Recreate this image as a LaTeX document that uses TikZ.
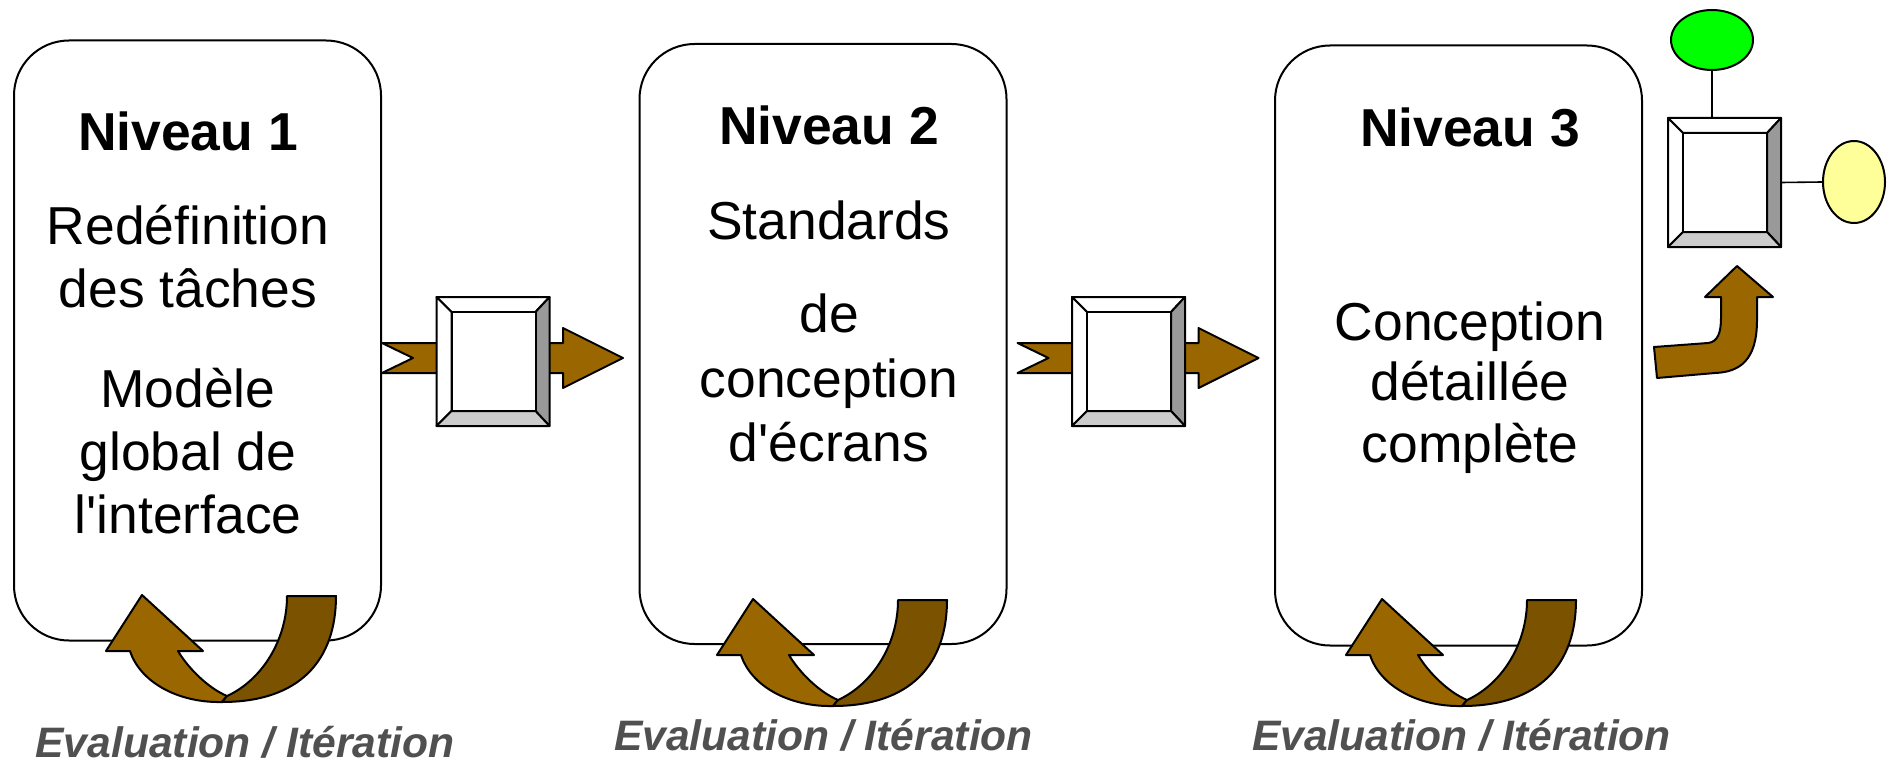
\documentclass[tikz,border=0pt]{standalone}
\usepackage{fontspec}
\setmainfont{Liberation Sans}
\usetikzlibrary{calc,shapes.geometric}

\definecolor{brownL}{HTML}{996600}
\definecolor{brownD}{HTML}{7A5200}
\definecolor{bevR}{HTML}{999999}
\definecolor{bevB}{HTML}{CCCCCC}
\definecolor{lblgray}{HTML}{505050}
\definecolor{okgreen}{HTML}{00FF00}
\definecolor{paleyellow}{HTML}{FFFF99}

\tikzset{
  stage/.style={draw=black, line width=1pt, rounded corners=27.5pt,
    minimum width=183.5pt, minimum height=300pt, inner sep=0pt, fill=white},
  body/.style={font=\fontsize{26.7}{32}\selectfont, anchor=base, inner sep=0pt},
  head/.style={font=\fontsize{26.7}{32}\selectfont\bfseries, anchor=base, inner sep=0pt},
  evalnote/.style={anchor=base, inner sep=0pt, text=lblgray,
    font=\fontsize{21.3}{25}\selectfont\bfseries\itshape},
  outl/.style={draw=black, line width=1pt, line join=round},
  thin/.style={draw=black, line width=0.8pt},
  % framed bevel square, origin at its top-left corner
  pics/bevelsq/.style={code={
    \fill[white] (0,0) rectangle (113,129);
    \draw[outl, fill=white] (0,0) -- (113,0) -- (99,15) -- (15,15) -- cycle;
    \draw[outl, fill=white] (0,0) -- (15,15) -- (15,114) -- (0,129) -- cycle;
    \draw[outl, fill=bevR] (113,0) -- (113,129) -- (99,114) -- (99,15) -- cycle;
    \draw[outl, fill=bevB] (0,129) -- (113,129) -- (99,114) -- (15,114) -- cycle;
    \draw[outl, fill=white] (15,15) rectangle (99,114);
    \coordinate (-top) at (56.5,0);
    \coordinate (-right) at (113,64.5);
  }},
  % notched block arrow running through a bevel square, origin at tail top
  pics/linkarrow/.style={code={
    \draw[outl, fill=brownL] (0,0) -- (31,15) -- (0,30) -- (181,30) -- (181,45)
      -- (241,15) -- (181,-15) -- (181,0) -- cycle;
    \pic at (54.5,-46) {bevelsq};
  }},
  % curved return arrow below a stage
  pics/looparrow/.style={code={
    \draw[outl, fill=brownL] (130,651) -- (106,651) -- (142,595) -- (203,651) -- (178,651)
      .. controls (188,668) and (208,688) .. (227,696) -- (222,702)
      .. controls (178,703) and (140,682) .. (130,651) -- cycle;
    \draw[outl, fill=brownD] (287,596) -- (336,596)
      .. controls (336,660) and (300,702) .. (222,702) -- (227,696)
      .. controls (262,680) and (287,640) .. (287,596) -- cycle;
  }},
}

\begin{document}
\begin{tikzpicture}[x=0.5pt, y=-0.5pt]
  \path[use as bounding box, fill=white] (0,0) rectangle (1890,765);

  % the three stages
  \node[stage] (box1) at (197.5,340.5) {};
  \node[stage] (box2) at (823,344) {};
  \node[stage] (box3) at (1458.5,345.5) {};

  % stage 1 text
  \node[head] (n1)  at (188,150.7) {Niveau 1};
  \node[body] (n1a) at (188,244.7) {Redéfinition};
  \node[body] (n1b) at (188,307)   {des tâches};
  \node[body] (n1c) at (188,407)   {Modèle};
  \node[body] (n1d) at (188,470)   {global de};
  \node[body] (n1e) at (188,533)   {l\textquotesingle interface};

  % stage 2 text
  \node[head] (n2)  at (829,145) {Niveau 2};
  \node[body] (n2a) at (829,239) {Standards};
  \node[body] (n2b) at (829,332) {de};
  \node[body] (n2c) at (829,397) {conception};
  \node[body] (n2d) at (829,461) {d\textquotesingle écrans};

  % stage 3 text
  \node[head] (n3)  at (1470,147) {Niveau 3};
  \node[body] (n3a) at (1470,340) {Conception};
  \node[body] (n3b) at (1470,400) {détaillée};
  \node[body] (n3c) at (1470,462) {complète};

  % links between stages
  \pic at ($(box1.east)+(0,2.5)$) {linkarrow};
  \pic at ($(box2.east)+(10,-1)$) {linkarrow};

  % iteration loops
  \pic at (0,0) {looparrow};
  \pic at (611,4) {looparrow};
  \pic at (1240,4) {looparrow};

  \node[evalnote] (e1) at (245,757)    {Evaluation / Itération};
  \node[evalnote] (e2) at (823.5,750)  {Evaluation / Itération};
  \node[evalnote] (e3) at (1461.5,750) {Evaluation / Itération};

  % output of stage 3
  \draw[outl, fill=brownL] (1654,347) -- (1708,343)
    .. controls (1718,342) and (1721,332) .. (1721,318) -- (1721,297)
    -- (1705,297) -- (1737,266) -- (1773,297) -- (1757,297) -- (1757,320)
    .. controls (1757,360) and (1740,372) .. (1715,373) -- (1657,378) -- cycle;
  \pic (sq3) at (1668,118) {bevelsq};

  \node[outl, ellipse, fill=okgreen, minimum width=41pt, minimum height=30pt, inner sep=0pt]
    (gdot) at (1712,40) {};
  \node[outl, ellipse, fill=paleyellow, minimum width=31pt, minimum height=41pt, inner sep=0pt]
    (ydot) at (1854,182) {};
  \draw[thin] (gdot.south) -- (gdot.south |- sq3-top);
  \draw[thin] (sq3-right) -- (ydot.west);
\end{tikzpicture}
\end{document}
